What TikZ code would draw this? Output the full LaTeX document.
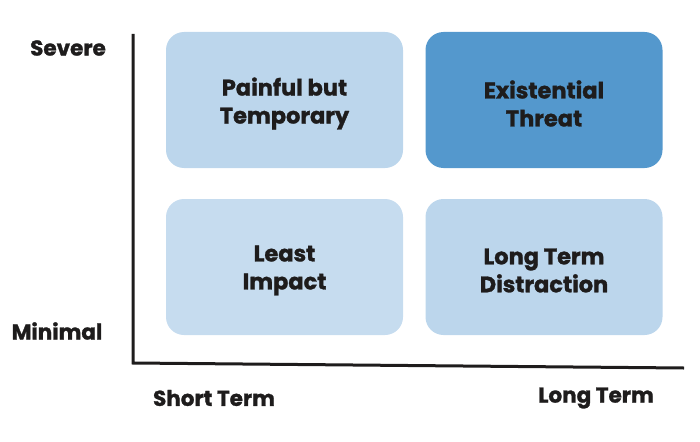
\documentclass[tikz,border=0pt]{standalone}
\usepackage{fontspec}
\setmainfont{Poppins}[BoldFeatures={FakeBold=1.3}]
\definecolor{palebl}{HTML}{BCD6EC}
\definecolor{palerbl}{HTML}{C6DCEF}
\definecolor{deepbl}{HTML}{5498CD}
\definecolor{inkc}{HTML}{1E1C1C}
\begin{document}
\begin{tikzpicture}[
          qd/.style={rounded corners=18pt, minimum width=237pt, minimum height=136pt,
            inner sep=0pt},
          tx/.style={align=center, text=inkc, yshift=-3.5pt,
            font=\bfseries\fontsize{22.5}{28}\selectfont},
          ax/.style={line width=3pt, inkc},
          lb/.style={text=inkc, font=\bfseries\fontsize{21.5}{24}\selectfont},
          x=1pt,
          y=-1pt,
        ]
      \useasboundingbox (0, 0) rectangle (700, 441);
      \node[qd, fill=palebl, label={[tx]center:{Painful but\\Temporary}}] (pain) at (284.5, 100) {};
      \node[qd, fill=deepbl, label={[tx]center:{Existential\\Threat}}] (exist) at (544, 100) {};
      \node[qd, fill=palerbl, label={[tx]center:{Least\\Impact}}] (least) at (284.5, 267) {};
      \node[qd, fill=palebl, label={[tx]center:{Long Term\\Distraction}}] (dist) at (544, 267) {};
      \coordinate (top) at (133, 34);
      \coordinate (orig) at (133, 363);
      \coordinate (right) at (684, 368);
      \draw[ax] (top) -- (orig) -- (right);
      \node[lb] (sev) at (68, 48) {Severe};
      \node[lb] (mini) at (57, 331) {Minimal};
      \node[lb] (short) at (214, 398) {Short Term};
      \node[lb] (long) at (596, 398) {Long Term};
    \end{tikzpicture}
\end{document}
